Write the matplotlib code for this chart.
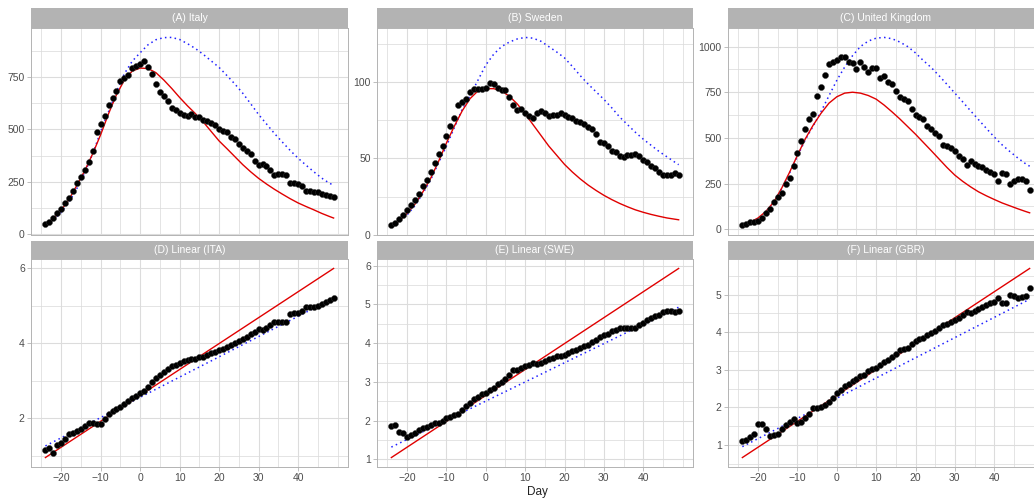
import matplotlib
matplotlib.use("Agg")
import matplotlib.pyplot as plt
import numpy as np

plt.rcParams['font.family'] = ['Liberation Sans', 'DejaVu Sans']

days = list(range(-24, 50))
curve_days = list(range(-24, 49, 2)) + [49]

# ---------- top row: observed points ----------
ita_obs = [51, 59, 78, 104, 123, 150, 174, 206, 243, 272, 307, 344, 395, 486, 526, 563, 616, 651, 681, 731,
           744, 760, 790, 803, 812, 824, 795, 766, 718, 678, 659, 635, 600, 592, 580, 568, 566, 571, 560, 560,
           544, 542, 529, 520, 502, 491, 486, 464, 456, 430, 411, 395, 382, 350, 331, 334, 325, 307, 283, 286,
           288, 283, 243, 243, 238, 230, 206, 206, 203, 200, 192, 187, 184, 179]
swe_obs = [6.5, 7.8, 10.4, 13, 16.3, 19.7, 23, 26.7, 32, 36, 40.8, 46.9, 53, 57.7, 64.6, 71, 76, 84.8, 87, 89,
           93.5, 95, 95.4, 95, 95.7, 99.3, 98.3, 95.7, 94.4, 94.4, 90, 84.6, 81.3, 82, 79.4, 77.7, 76, 79.4, 81, 79.6,
           77.7, 78, 78, 79.8, 78.3, 77, 76, 74.4, 73.8, 72.7, 70.5, 69, 65.7, 60.7, 59.9, 57.7, 54.9, 53.8, 51.2, 51,
           52.3, 52.3, 52.7, 51.6, 49, 47.3, 45.1, 43.4, 40.8, 39.3, 39.3, 39.3, 40.1, 39]
gbr_obs = [24, 31, 37, 40, 46, 64, 90, 110, 150, 177, 201, 247, 278, 347, 415, 481, 548, 603, 631, 731,
           781, 846, 905, 918, 927, 945, 942, 918, 909, 878, 918, 887, 863, 881, 881, 828, 841, 804, 795, 759,
           722, 713, 704, 658, 625, 612, 603, 567, 548, 527, 508, 463, 457, 444, 426, 399, 384, 351, 371, 356,
           347, 338, 324, 311, 302, 265, 307, 302, 250, 265, 274, 274, 265, 216]

# ---------- top row: fitted curves (red solid, blue dotted) ----------
ita_red = [46, 75, 115, 168, 235, 305, 385, 475, 575, 665, 735, 778, 792, 790, 770, 735, 695, 652, 612, 575,
           535, 490, 445, 408, 370, 332, 298, 267, 240, 215, 192, 170, 150, 133, 117, 100, 85, 78]
ita_blue = [42, 68, 105, 155, 220, 295, 385, 490, 585, 680, 765, 825, 865, 903, 927, 937, 938, 928, 908, 885,
            857, 826, 795, 756, 716, 672, 622, 571, 526, 481, 440, 400, 363, 330, 298, 268, 243, 235]
swe_red = [6, 9, 14, 20, 28, 37, 48, 60, 71, 81, 89, 94, 95.5, 95.5, 94, 90.5, 85.5, 79, 72, 65,
           58, 52, 46, 41, 36.5, 32.5, 29, 25.8, 23, 20.5, 18.3, 16.3, 14.7, 13.3, 12.1, 11, 10.2, 9.8]
swe_blue = [6, 9, 13, 19, 27, 36, 47, 58, 70, 82, 91, 101, 111, 118, 123, 126, 128, 129, 128.5, 126.5,
            123, 119.5, 115.6, 110, 104, 98.5, 93.5, 88.5, 83, 77, 72, 67, 62.5, 58.5, 54.5, 51, 47.5, 45.8]
gbr_red = [22, 38, 62, 98, 150, 225, 312, 405, 495, 570, 635, 690, 725, 745, 750, 745, 732, 712, 680, 643,
           604, 562, 520, 475, 430, 384, 338, 296, 262, 232, 205, 183, 163, 144, 128, 112, 97, 90]
gbr_blue = [20, 36, 60, 96, 148, 222, 308, 400, 490, 565, 645, 730, 815, 888, 950, 1000, 1030, 1046, 1050, 1043,
            1025, 1000, 965, 923, 885, 840, 793, 745, 697, 648, 600, 552, 505, 462, 425, 390, 358, 345]

# ---------- bottom row: linearised points ----------
ita_lin = [1.15, 1.2, 1.08, 1.29, 1.35, 1.44, 1.58, 1.6, 1.67, 1.71, 1.78, 1.87, 1.87, 1.85, 1.85, 1.98, 2.1, 2.19, 2.25, 2.31,
           2.39, 2.46, 2.55, 2.6, 2.67, 2.73, 2.84, 2.97, 3.06, 3.15, 3.24, 3.3, 3.38, 3.42, 3.47, 3.52, 3.56, 3.58, 3.58, 3.62,
           3.64, 3.69, 3.73, 3.76, 3.81, 3.85, 3.9, 3.95, 4.0, 4.05, 4.11, 4.17, 4.23, 4.29, 4.38, 4.36, 4.41, 4.47, 4.56, 4.57,
           4.56, 4.57, 4.77, 4.8, 4.81, 4.86, 4.95, 4.97, 4.97, 4.99, 5.04, 5.1, 5.15, 5.19]
swe_lin = [1.86, 1.88, 1.71, 1.68, 1.58, 1.64, 1.68, 1.75, 1.8, 1.84, 1.88, 1.93, 1.94, 2.0, 2.06, 2.1, 2.14, 2.17, 2.27, 2.39,
           2.47, 2.55, 2.62, 2.69, 2.72, 2.79, 2.84, 2.95, 3.01, 3.07, 3.18, 3.3, 3.31, 3.36, 3.4, 3.44, 3.49, 3.46, 3.49, 3.53,
           3.59, 3.63, 3.66, 3.66, 3.7, 3.76, 3.81, 3.83, 3.88, 3.92, 3.96, 4.02, 4.09, 4.16, 4.2, 4.25, 4.31, 4.35, 4.4, 4.4,
           4.4, 4.4, 4.4, 4.46, 4.53, 4.59, 4.64, 4.7, 4.74, 4.8, 4.83, 4.83, 4.8, 4.83]
gbr_lin = [1.1, 1.14, 1.2, 1.3, 1.55, 1.55, 1.42, 1.23, 1.26, 1.3, 1.41, 1.53, 1.62, 1.68, 1.59, 1.62, 1.71, 1.82, 1.98, 1.99,
           2.02, 2.05, 2.13, 2.24, 2.38, 2.47, 2.56, 2.63, 2.69, 2.75, 2.83, 2.87, 2.96, 3.02, 3.05, 3.14, 3.2, 3.27, 3.34, 3.43,
           3.52, 3.56, 3.59, 3.68, 3.77, 3.83, 3.85, 3.93, 3.97, 4.03, 4.1, 4.19, 4.21, 4.26, 4.32, 4.39, 4.45, 4.54, 4.51, 4.57,
           4.62, 4.66, 4.72, 4.78, 4.81, 4.9, 4.77, 4.79, 5.0, 4.96, 4.9, 4.93, 4.97, 5.17]

# ---------- bottom row: fitted lines (endpoints at day -24 and 49) ----------
line_days = [-24, 49]
ita_lin_red = [0.95, 5.99]
ita_lin_blue = [1.26, 5.2]
swe_lin_red = [1.05, 5.93]
swe_lin_blue = [1.32, 4.93]
gbr_lin_red = [0.66, 5.7]
gbr_lin_blue = [0.95, 4.88]

titles = ["(A) Italy", "(B) Sweden", "(C) United Kingdom",
          "(D) Linear (ITA)", "(E) Linear (SWE)", "(F) Linear (GBR)"]
x_ticks = [-20, -10, 0, 10, 20, 30, 40]

panels = [
    dict(obs=ita_obs, red=ita_red, blue=ita_blue, cx=curve_days, major=[0, 250, 500, 750], step=125),
    dict(obs=swe_obs, red=swe_red, blue=swe_blue, cx=curve_days, major=[0, 50, 100], step=25),
    dict(obs=gbr_obs, red=gbr_red, blue=gbr_blue, cx=curve_days, major=[0, 250, 500, 750, 1000], step=125),
    dict(obs=ita_lin, red=ita_lin_red, blue=ita_lin_blue, cx=line_days, major=[2, 4, 6], step=1),
    dict(obs=swe_lin, red=swe_lin_red, blue=swe_lin_blue, cx=line_days, major=[1, 2, 3, 4, 5, 6], step=0.5),
    dict(obs=gbr_lin, red=gbr_lin_red, blue=gbr_lin_blue, cx=line_days, major=[1, 2, 3, 4, 5], step=0.5),
]

W, H = 1034, 500
fig = plt.figure(figsize=(W / 100, H / 100), dpi=100)
fig.patch.set_facecolor('white')

col_x = [(31, 348), (377, 693), (728, 1044)]
row_y = [((8, 28), (28, 235)), ((241, 259), (259, 467))]

grid_c = '#DCDCDC'
border_c = '#B3B3B3'
txt_c = '#4D4D4D'

def frac(x0, x1, y0, y1):
    return [x0 / W, 1 - y1 / H, (x1 - x0) / W, (y1 - y0) / H]

for i, p in enumerate(panels):
    r, c = divmod(i, 3)
    (sy0, sy1), (py0, py1) = row_y[r]
    x0, x1 = col_x[c]
    ax = fig.add_axes(frac(x0, x1, py0, py1))
    sax = fig.add_axes(frac(x0, x1, sy0, sy1))
    sax.set_facecolor('#B3B3B3')
    sax.set_xticks([]); sax.set_yticks([])
    for s in sax.spines.values():
        s.set_visible(False)
    sax.text(0.5, 0.5, titles[i], color='white', fontsize=7.5, ha='center', va='center',
             transform=sax.transAxes)

    ax.plot(p['cx'], p['blue'], color='#2020FF', lw=1.1, linestyle=(0, (1, 2.2)), zorder=2)
    ax.plot(p['cx'], p['red'], color='#E00000', lw=1.0, zorder=3)
    ax.scatter(days, p['obs'], s=19, color='black', edgecolors='#333333', linewidths=0.3, zorder=4)

    allv = list(p['obs']) + list(p['red']) + list(p['blue'])
    lo, hi = min(allv), max(allv)
    pad = 0.05 * (hi - lo)

    ax.set_yticks(p['major'])
    ax.set_yticks(np.arange(p['major'][0] - p['step'] * 2, p['major'][-1] + p['step'] * 3, p['step']), minor=True)
    ax.set_xticks(x_ticks)
    ax.set_xticks([-25, -15, -5, 5, 15, 25, 35, 45, 50], minor=True)
    ax.set_ylim(lo - pad, hi + pad)
    ax.set_xlim(-24 - 3.65, 49 + 3.65)

    ax.grid(True, which='major', color=grid_c, lw=0.8, zorder=0)
    ax.grid(True, which='minor', color=grid_c, lw=0.55, zorder=0)
    ax.set_axisbelow(True)
    ax.tick_params(which='minor', length=0)
    ax.tick_params(which='major', length=3, width=0.6, color=border_c, labelsize=7.5,
                   labelcolor=txt_c, pad=1.5)
    if r == 0:
        ax.tick_params(axis='x', which='major', labelbottom=False, length=0)
    for s in ax.spines.values():
        s.set_color(border_c)
        s.set_linewidth(0.7)

fig.text(537 / W, 1 - 492 / H, "Day", ha='center', va='center', fontsize=8.5, color='#222222')

fig.savefig("out.png", dpi=100)
